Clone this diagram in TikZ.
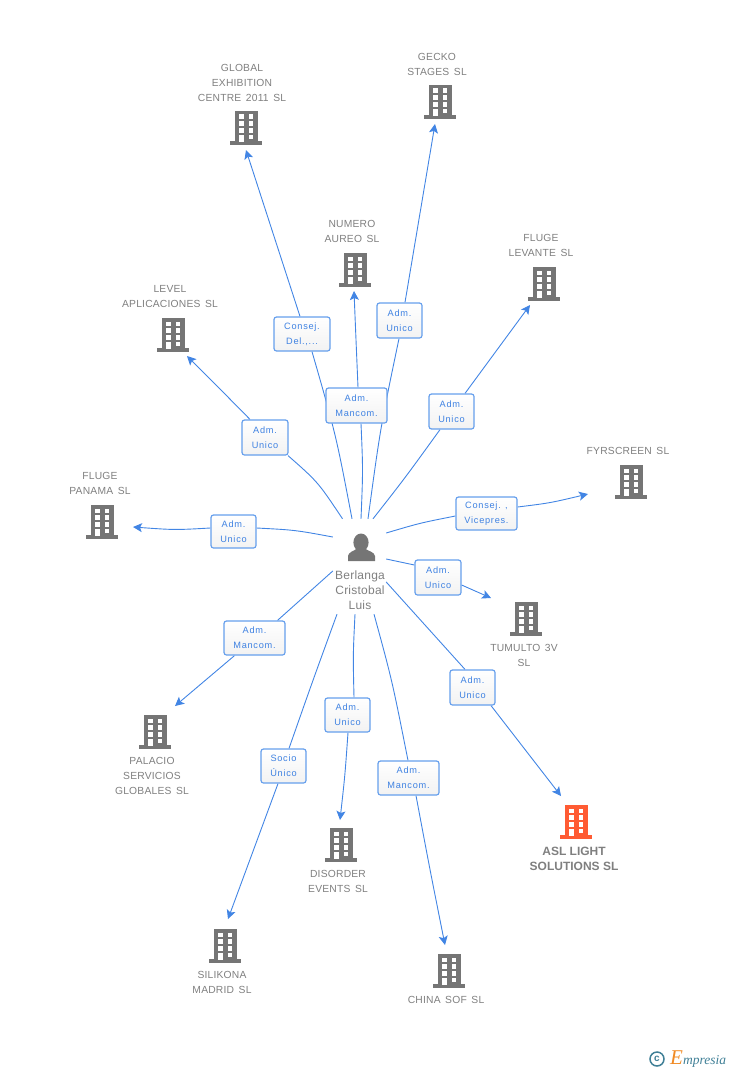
\documentclass[tikz,border=0pt]{standalone}
\usepackage{fontspec}
\setmainfont{Liberation Sans}
\newfontfamily\labfont[LetterSpace=2,WordSpace=1.5]{Liberation Sans}
\newfontfamily\boxfont[LetterSpace=8]{Liberation Sans}
\newfontfamily\logofont{Liberation Serif}
\usetikzlibrary{arrows.meta,backgrounds}
\definecolor{edgeblue}{HTML}{4285E4}
\definecolor{boxline}{HTML}{669FEC}
\definecolor{boxtext}{HTML}{3F82E2}
\definecolor{txtgray}{HTML}{7F7F7F}
\definecolor{iconray}{HTML}{757575}
\definecolor{aslred}{HTML}{FF5B33}
\definecolor{logoteal}{HTML}{3F7F96}
\definecolor{logoorange}{HTML}{F08A24}
\tikzset{
  rolebox/.style={rectangle,rounded corners=2.5pt,draw=boxline,line width=1.2pt,
    top color=white,bottom color=white!95!black,inner sep=0pt,anchor=center,
    text=boxtext,align=center,font=\boxfont\fontsize{9.2}{15}\selectfont},
  lab/.style={inner sep=0pt,align=center,text=txtgray,font=\labfont\fontsize{10.3}{15}\selectfont},
  boldlab/.style={inner sep=0pt,align=center,text=txtgray,font=\bfseries\fontsize{12}{15}\selectfont},
  personlab/.style={inner sep=0pt,align=center,text=txtgray,font=\labfont\fontsize{12}{15}\selectfont},
  edge/.style={draw=edgeblue,line width=0.9pt},
  arrowedge/.style={edge,-{Stealth[length=9pt,width=9pt,inset=2pt]}},
  bldg/.style={rectangle,inner sep=0pt,minimum width=32pt,minimum height=34pt},
}
% a building: invisible named node with the icon drawn over it
\newcommand{\bldgnode}[3]{%
  \node[bldg] (#1) at (#2) {};
  \begin{scope}[shift={(#1.north)}]
    \fill[#3] (-11.5,0) rectangle (11.5,31);
    \fill[#3] (-16,30.5) rectangle (16,34);
    \foreach \ry in {3.7,10.5,17.3}{
      \fill[white] (-7.4,\ry) rectangle (-2.5,\ry+4.5);
      \fill[white] (2.5,\ry) rectangle (7.4,\ry+4.5);
    }
    \fill[white] (-7.4,24) rectangle (-2.5,31);
    \fill[white] (2.5,24) rectangle (7.4,28.5);
  \end{scope}
}
\begin{document}
\begin{tikzpicture}[x=1pt,y=-1pt]
\useasboundingbox (0,0) rectangle (728,1070);

% buildings
\bldgnode{bGlobal}{246,128}{iconray}
\bldgnode{bGecko}{440,102}{iconray}
\bldgnode{bNumero}{355,270}{iconray}
\bldgnode{bLevante}{544,284}{iconray}
\bldgnode{bLevel}{173,335}{iconray}
\bldgnode{bFyr}{631,482}{iconray}
\bldgnode{bPanama}{102,522}{iconray}
\bldgnode{bTumulto}{526,619}{iconray}
\bldgnode{bPalacio}{155,732}{iconray}
\bldgnode{bAsl}{576,822}{aslred}
\bldgnode{bDisorder}{341,845}{iconray}
\bldgnode{bSilikona}{225,946}{iconray}
\bldgnode{bChina}{449,971}{iconray}

% building labels
\node[lab] (lGlobal) at (242,82.5) {GLOBAL\\EXHIBITION\\CENTRE 2011 SL};
\node[lab] (lGecko) at (437,64.5) {GECKO\\STAGES SL};
\node[lab] (lNumero) at (352,231.5) {NUMERO\\AUREO SL};
\node[lab] (lLevante) at (541,245.5) {FLUGE\\LEVANTE SL};
\node[lab] (lLevel) at (170,296.5) {LEVEL\\APLICACIONES SL};
\node[lab] (lFyr) at (628,451) {FYRSCREEN SL};
\node[lab] (lPanama) at (100,483.5) {FLUGE\\PANAMA SL};
\node[lab] (lTumulto) at (524,655.5) {TUMULTO 3V\\SL};
\node[lab] (lPalacio) at (152,776) {PALACIO\\SERVICIOS\\GLOBALES SL};
\node[boldlab] (lAsl) at (574,858.5) {ASL LIGHT\\SOLUTIONS SL};
\node[lab] (lDisorder) at (338,881.5) {DISORDER\\EVENTS SL};
\node[lab] (lSilikona) at (222,982.5) {SILIKONA\\MADRID SL};
\node[lab] (lChina) at (446,1000) {CHINA SOF SL};

% person: the node spans the icon and the name
\node[inner sep=0pt,minimum width=53pt,minimum height=95pt] (person) at (359.5,566.5) {};
\fill[iconray] (361,542.5) ellipse (7.6 and 9);
\fill[iconray] (348,561) -- (348,556) .. controls (348.5,552) and (354,551) .. (357,548.5)
  -- (365,548.5) .. controls (368,551) and (374.5,552) .. (375,556) -- (375,561) -- cycle;
\node[personlab] (lPerson) at (360,590) {Berlanga\\Cristobal\\Luis};

% role boxes
\node[rolebox,minimum width=56pt,minimum height=34pt] (xGlobal) at (302,334) {Consej.\\Del.,...};
\node[rolebox,minimum width=45pt,minimum height=35pt] (xGecko) at (399.5,320.5) {Adm.\\Unico};
\node[rolebox,minimum width=45pt,minimum height=35pt] (xLevante) at (451.5,411.5) {Adm.\\Unico};
\node[rolebox,minimum width=46pt,minimum height=35pt] (xLevel) at (265,437.5) {Adm.\\Unico};
\node[rolebox,minimum width=61pt,minimum height=33pt] (xFyr) at (486.5,513.5) {Consej. ,\\Vicepres.};
\node[rolebox,minimum width=45pt,minimum height=33pt] (xPanama) at (233.5,531.5) {Adm.\\Unico};
\node[rolebox,minimum width=46pt,minimum height=35pt] (xTumulto) at (438,577.5) {Adm.\\Unico};
\node[rolebox,minimum width=61pt,minimum height=34pt] (xPalacio) at (254.5,638) {Adm.\\Mancom.};
\node[rolebox,minimum width=45pt,minimum height=35pt] (xAsl) at (472.5,687.5) {Adm.\\Unico};
\node[rolebox,minimum width=61pt,minimum height=34pt] (xChina) at (408.5,778) {Adm.\\Mancom.};
\node[rolebox,minimum width=45pt,minimum height=34pt] (xDisorder) at (347.5,715) {Adm.\\Unico};
\node[rolebox,minimum width=45pt,minimum height=34pt] (xSilikona) at (283.5,766) {Socio\\Único};
\node[rolebox,minimum width=61pt,minimum height=35pt] (xNumero) at (356.5,405.5) {Adm.\\Mancom.};

% arrow tips (free ends)
\coordinate (tGlobal) at (246,150);
\coordinate (tGecko) at (435,124);
\coordinate (tNumero) at (354,291);
\coordinate (tLevante) at (530,305);
\coordinate (tLevel) at (187,356);
\coordinate (tFyr) at (588,494);
\coordinate (tPanama) at (133,527);
\coordinate (tTumulto) at (491,598);
\coordinate (tPalacio) at (175,706);
\coordinate (tAsl) at (561,796);
\coordinate (tDisorder) at (340,820);
\coordinate (tSilikona) at (228,919);
\coordinate (tChina) at (445,945);

\begin{scope}[on background layer]
  % person to box
  \draw[edge] ([xshift=-17pt]person.north) .. controls (318,482) .. ([xshift=23pt]xLevel.south);
  \draw[edge] ([xshift=-7.5pt]person.north) .. controls (336,435) .. ([xshift=10pt]xGlobal.south);
  \draw[edge] ([xshift=1.5pt]person.north) .. controls (363,470) .. ([xshift=4.5pt]xNumero.south);
  \draw[edge] ([xshift=8.5pt]person.north) .. controls (380.5,427) .. ([xshift=-0.5pt]xGecko.south);
  \draw[edge] ([xshift=13.5pt]person.north) .. controls (405,478) .. ([xshift=-11.5pt]xLevante.south);
  \draw[edge] ([yshift=33.5pt]person.east) .. controls (420,523) .. ([yshift=-2.5pt]xFyr.west);
  \draw[edge] ([yshift=7.5pt]person.east) -- ([yshift=12.5pt]xTumulto.west);
  \draw[edge] ([yshift=-15.5pt]person.east) .. controls (425,625) .. ([xshift=-7.5pt]xAsl.north);
  \draw[edge] ([xshift=14.5pt]person.south) .. controls (392,680) .. ([xshift=-0.5pt]xChina.north);
  \draw[edge] ([xshift=-4.5pt]person.south) .. controls (353,655) .. ([xshift=6.5pt]xDisorder.north);
  \draw[edge] ([xshift=-22.5pt]person.south) .. controls (313,680) .. ([xshift=5.5pt]xSilikona.north);
  \draw[edge] ([yshift=-4.5pt]person.west) -- ([xshift=23pt]xPalacio.north);
  \draw[edge] ([yshift=29.5pt]person.west) .. controls (295,530) .. ([yshift=3.5pt]xPanama.east);
  % box to building
  \draw[arrowedge] ([xshift=-2pt]xGlobal.north) -- (tGlobal);
  \draw[arrowedge] ([xshift=5.5pt]xGecko.north) -- (tGecko);
  \draw[arrowedge] ([xshift=1.5pt]xNumero.north) .. controls (356,340) .. (tNumero);
  \draw[arrowedge] ([xshift=13.5pt]xLevante.north) -- (tLevante);
  \draw[arrowedge] ([xshift=-15pt]xLevel.north) .. controls (222,391) .. (tLevel);
  \draw[arrowedge] ([yshift=6.5pt]xFyr.east) .. controls (550,503) .. (tFyr);
  \draw[arrowedge] ([yshift=3.5pt]xPanama.west) .. controls (175,530) .. (tPanama);
  \draw[arrowedge] ([yshift=-7.5pt]xTumulto.east) -- (tTumulto);
  \draw[arrowedge] ([xshift=-20pt]xPalacio.south) -- (tPalacio);
  \draw[arrowedge] ([xshift=18.5pt]xAsl.south) -- (tAsl);
  \draw[arrowedge] ([xshift=7.5pt]xChina.south) .. controls (430,870) .. (tChina);
  \draw[arrowedge] ([xshift=0.5pt]xDisorder.south) .. controls (345,775) .. (tDisorder);
  \draw[arrowedge] ([xshift=-5.5pt]xSilikona.south) -- (tSilikona);
\end{scope}

% footer logo
\node[circle,draw=logoteal,line width=1.5pt,minimum size=14pt,inner sep=0pt,text=logoteal,font=\bfseries\fontsize{10}{10}\selectfont] (copy) at (657,1059) {c};
\node[anchor=base west,inner sep=0pt,text=logoteal,font=\logofont\itshape\fontsize{13.5}{16}\selectfont] (brand) at (670,1064) {{\color{logoorange}\fontsize{21}{21}\selectfont E}mpresia};
\end{tikzpicture}
\end{document}
